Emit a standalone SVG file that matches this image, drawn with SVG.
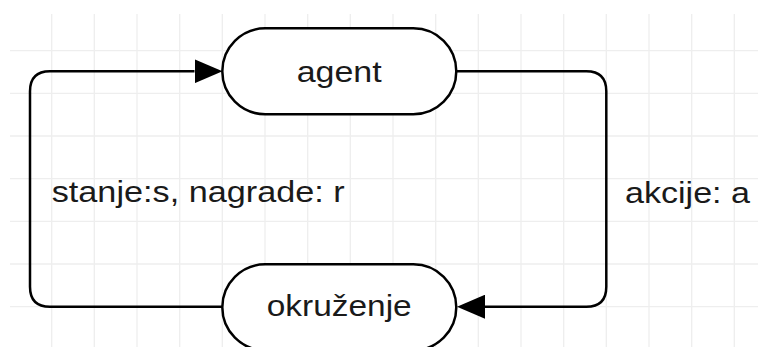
<svg xmlns="http://www.w3.org/2000/svg" width="758" height="347" viewBox="0 0 758 347">
<style>
.grid line{stroke:#eeeeee;stroke-width:1.3}
.node{fill:#ffffff;stroke:#000000;stroke-width:2.5}
.edge{fill:none;stroke:#000000;stroke-width:2.5}
text{font-family:"Liberation Sans",Arial,sans-serif;font-size:30px;fill:#1a1a1a}
</style>
<defs>
<marker id="arrow" viewBox="0 0 28 24" markerWidth="28" markerHeight="24" markerUnits="userSpaceOnUse" refX="0" refY="12" orient="auto">
<path d="M0,0 L28,12 L0,24 z" fill="#000000"/>
</marker>
</defs>
<rect width="758" height="347" fill="#ffffff"/>
<g class="grid">
<line x1="51.7" y1="14" x2="51.7" y2="347"/>
<line x1="94.3" y1="14" x2="94.3" y2="347"/>
<line x1="137" y1="14" x2="137" y2="347"/>
<line x1="179.7" y1="14" x2="179.7" y2="347"/>
<line x1="222.3" y1="14" x2="222.3" y2="347"/>
<line x1="265" y1="14" x2="265" y2="347"/>
<line x1="307.7" y1="14" x2="307.7" y2="347"/>
<line x1="350.3" y1="14" x2="350.3" y2="347"/>
<line x1="393" y1="14" x2="393" y2="347"/>
<line x1="435.7" y1="14" x2="435.7" y2="347"/>
<line x1="478.3" y1="14" x2="478.3" y2="347"/>
<line x1="521" y1="14" x2="521" y2="347"/>
<line x1="563.7" y1="14" x2="563.7" y2="347"/>
<line x1="606.3" y1="14" x2="606.3" y2="347"/>
<line x1="649" y1="14" x2="649" y2="347"/>
<line x1="691.7" y1="14" x2="691.7" y2="347"/>
<line x1="734.3" y1="14" x2="734.3" y2="347"/>
<line x1="10" y1="50.7" x2="758" y2="50.7"/>
<line x1="10" y1="93.3" x2="758" y2="93.3"/>
<line x1="10" y1="136" x2="758" y2="136"/>
<line x1="10" y1="178.7" x2="758" y2="178.7"/>
<line x1="10" y1="221.3" x2="758" y2="221.3"/>
<line x1="10" y1="264" x2="758" y2="264"/>
<line x1="10" y1="306.7" x2="758" y2="306.7"/>
</g>
<g id="connectors">
<path class="edge" d="M222,306.7 H50 Q30,306.7 30,286.7 V91.3 Q30,71.3 50,71.3 H194.5" marker-end="url(#arrow)"/>
<path class="edge" d="M456.3,71.3 H586.3 Q606.3,71.3 606.3,91.3 V286.7 Q606.3,306.7 586.3,306.7 H485" marker-end="url(#arrow)"/>
<text x="51.7" y="201.7" textLength="293" lengthAdjust="spacingAndGlyphs">stanje:s, nagrade: r</text>
<text x="625" y="203" textLength="125" lengthAdjust="spacingAndGlyphs">akcije: a</text>
</g>
<g id="agent">
<rect class="node" x="222.3" y="28.3" width="234" height="86" rx="43" ry="43"/>
<text x="296.7" y="81.7" textLength="85" lengthAdjust="spacingAndGlyphs">agent</text>
</g>
<g id="okruzenje">
<rect class="node" x="222.3" y="264.3" width="234" height="86" rx="43" ry="43"/>
<text x="266.7" y="315.5" textLength="145" lengthAdjust="spacingAndGlyphs">okruženje</text>
</g>
</svg>
